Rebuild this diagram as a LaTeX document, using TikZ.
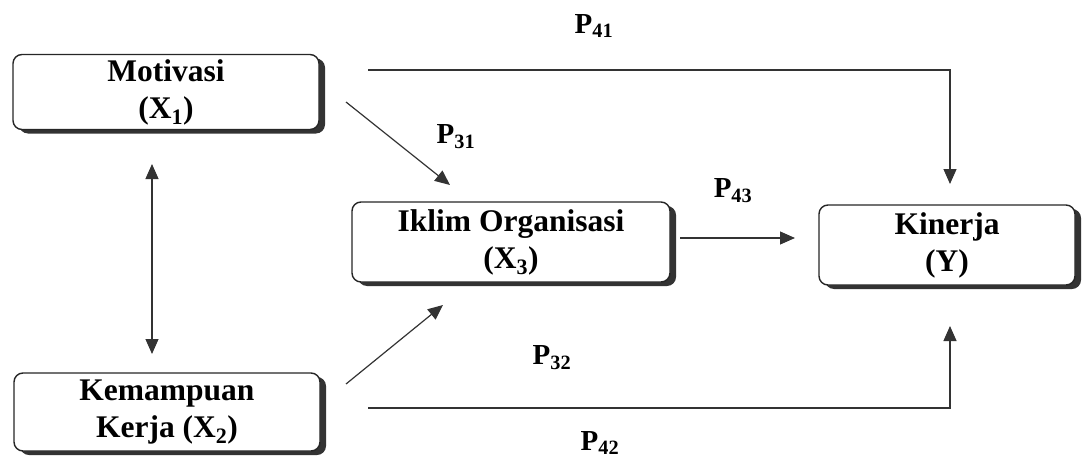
\documentclass[tikz,border=0pt]{standalone}
\usepackage{fontspec}
\setmainfont{Liberation Serif}
\usetikzlibrary{arrows.meta,shadows}
\begin{document}
\begin{tikzpicture}[x=1pt,y=-1pt,
  box/.style={draw=black!85, line width=1.4pt, rounded corners=9pt, fill=white,
    align=center, font=\fontsize{31.5}{37}\selectfont\bfseries, inner sep=0pt,
    drop shadow={shadow xshift=6pt, shadow yshift=-4pt, fill=black!80, opacity=1}},
  conn/.style={draw=black!80, line width=1.2pt},
  tip/.style={-{Triangle[length=15pt,width=13pt]}},
  lbl/.style={font=\fontsize{29}{34}\selectfont\bfseries, inner sep=0pt}]
\useasboundingbox (0,0) rectangle (1082,463);
\node[box, minimum width=306pt, minimum height=75pt] (mot) at (166,92) {Motivasi\\(X\textsubscript{1})};
\node[box, minimum width=306pt, minimum height=78pt] (kem) at (167,412) {Kemampuan\\Kerja (X\textsubscript{2})};
\node[box, minimum width=318pt, minimum height=80pt] (ikl) at (511,242) {Iklim Organisasi\\(X\textsubscript{3})};
\node[box, minimum width=256pt, minimum height=80pt] (kin) at (947,245) {Kinerja\\(Y)};
% P41
\coordinate (a41) at (368,70);
\coordinate (b41) at (950,184);
\draw[conn, tip] (a41) -| (b41);
% P42
\coordinate (a42) at (368,408);
\coordinate (b42) at (950,326);
\draw[conn, tip] (a42) -| (b42);
% P31
\coordinate (a31) at (346,102);
\coordinate (b31) at (450,185);
\draw[conn, tip] (a31) -- (b31);
% P32
\coordinate (a32) at (346,384);
\coordinate (b32) at (443,305);
\draw[conn, tip] (a32) -- (b32);
% P43
\coordinate (a43) at (680,238);
\coordinate (b43) at (795,238);
\draw[conn, tip] (a43) -- (b43);
% correlation
\coordinate (c1) at (152,164);
\coordinate (c2) at (152,354);
\draw[conn, {Triangle[length=15pt,width=13pt]}-{Triangle[length=15pt,width=13pt]}] (c1) -- (c2);
% labels
\node[lbl] (p41) at (594,26) {P\textsubscript{41}};
\node[lbl] (p31) at (456,137) {P\textsubscript{31}};
\node[lbl] (p43) at (733,191) {P\textsubscript{43}};
\node[lbl] (p32) at (552,358) {P\textsubscript{32}};
\node[lbl] (p42) at (600,443) {P\textsubscript{42}};
\end{tikzpicture}
\end{document}
